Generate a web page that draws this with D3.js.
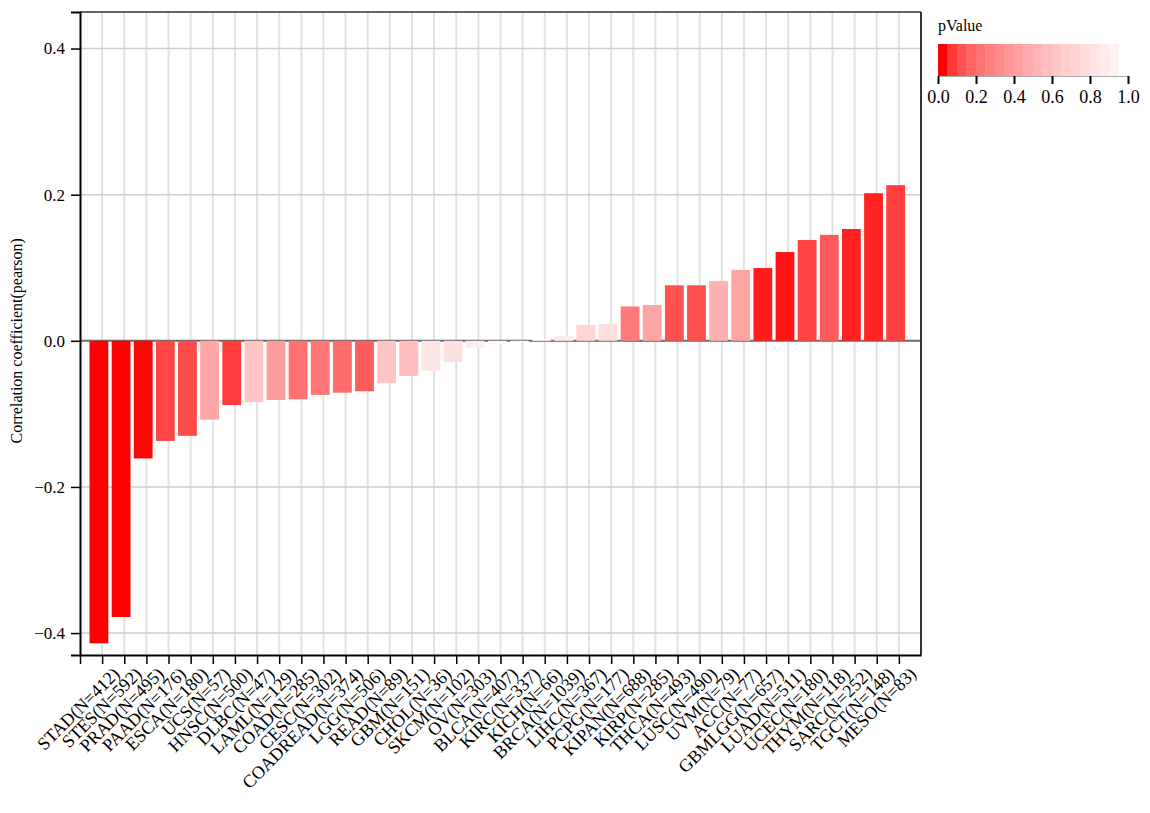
<!DOCTYPE html>
<html lang="en">
<head>
  <meta charset="UTF-8">
  <title>Correlation by cancer type</title>
  <style>
body { margin: 0; background: #fff; }
svg text { font-family: 'Liberation Serif', 'Times New Roman', serif; fill: #000; }
  </style>
</head>
<body>
<svg id="chart" width="1150" height="813"></svg>

<script src="https://d3js.org/d3.v7.min.js"></script>
<script>
// cancer types, sorted by correlation
const categories = ["STAD(N=412)","STES(N=592)","PRAD(N=495)","PAAD(N=176)","ESCA(N=180)",
  "UCS(N=57)","HNSC(N=500)","DLBC(N=47)","LAML(N=129)","COAD(N=285)","CESC(N=302)",
  "COADREAD(N=374)","LGG(N=506)","READ(N=89)","GBM(N=151)","CHOL(N=36)","SKCM(N=102)",
  "OV(N=303)","BLCA(N=407)","KIRC(N=337)","KICH(N=66)","BRCA(N=1039)","LIHC(N=367)",
  "PCPG(N=177)","KIPAN(N=688)","KIRP(N=285)","THCA(N=493)","LUSC(N=490)","UVM(N=79)",
  "ACC(N=77)","GBMLGG(N=657)","LUAD(N=511)","UCEC(N=180)","THYM(N=118)","SARC(N=252)",
  "TGCT(N=148)","MESO(N=83)"];

const correlations = [-0.414,-0.378,-0.161,-0.137,-0.130,
  -0.108,-0.088,-0.084,-0.081,-0.080,-0.074,
  -0.071,-0.069,-0.058,-0.048,-0.041,-0.029,
  -0.0095,-0.004,-0.002,0.003,0.0068,0.0216,
  0.023,0.047,0.049,0.076,0.076,0.082,
  0.097,0.0996,0.1215,0.138,0.145,0.153,
  0.202,0.213];

const pValues = [0.0000,0.0000,0.0004,0.075,0.085,
  0.43,0.055,0.59,0.38,0.20,0.21,
  0.18,0.13,0.59,0.55,0.82,0.77,
  0.86,0.93,0.97,0.97,0.84,0.69,
  0.76,0.23,0.42,0.095,0.095,0.48,
  0.41,0.012,0.007,0.068,0.125,0.017,
  0.019,0.06];

const yTicks = [-0.4,-0.2,0.0,0.2,0.4];
const legendSteps = [0,0.05,0.1,0.15,0.2,0.25,0.3,0.35,0.4,0.45,0.5,0.55,0.6,0.65,0.7,0.75,0.8,0.85,0.9];
const legendTicks = [0,0.2,0.4,0.6,0.8,1.0];

//--------------------------------------
// scales
//--------------------------------------
const svg = d3.select("#chart");
const plotL = 80, plotR = 921, plotT = 12, plotB = 655;

const x = d3.scaleLinear().domain([0, categories.length + 1]).range([plotL, plotR]);
const y = d3.scaleLinear().domain([-0.43, 0.45]).range([plotB, plotT]);
const color = d3.scaleSequentialSqrt(d3.interpolateRgb("#ff0000", "#ffffff")).domain([0, 1]);

//--------------------------------------
// grid
//--------------------------------------
svg.append("g").selectAll("line")
  .data(d3.range(1, categories.length + 1))
  .join("line")
    .attr("x1", d => x(d)).attr("x2", d => x(d))
    .attr("y1", plotT).attr("y2", plotB)
    .attr("stroke", "#e2e2e2").attr("stroke-width", 2);

svg.append("g").selectAll("line")
  .data(yTicks)
  .join("line")
    .attr("x1", plotL).attr("x2", plotR)
    .attr("y1", d => y(d)).attr("y2", d => y(d))
    .attr("stroke", "#cfcfcf").attr("stroke-width", 1.5);

// zero line
svg.append("line")
  .attr("x1", plotL).attr("x2", plotR)
  .attr("y1", y(0)).attr("y2", y(0))
  .attr("stroke", "#6e6e6e").attr("stroke-width", 2);

//--------------------------------------
// bars
//--------------------------------------
svg.append("g").selectAll("rect")
  .data(categories)
  .join("rect")
    .attr("x", (d, i) => x(i + 0.43))
    .attr("width", x(0.85) - x(0))
    .attr("y", (d, i) => y(Math.max(0, correlations[i])))
    .attr("height", (d, i) => Math.abs(y(correlations[i]) - y(0)))
    .attr("fill", (d, i) => color(pValues[i]));

// frame top + right
svg.append("line").attr("x1", plotL).attr("x2", plotR).attr("y1", plotT).attr("y2", plotT)
  .attr("stroke", "#333").attr("stroke-width", 1.5);
svg.append("line").attr("x1", plotR).attr("x2", plotR).attr("y1", plotT).attr("y2", plotB)
  .attr("stroke", "#333").attr("stroke-width", 2);

//--------------------------------------
// axes
//--------------------------------------
const yAxis = svg.append("g")
  .attr("transform", `translate(${plotL},0)`)
  .call(d3.axisLeft(y).tickValues(yTicks).tickSize(9).tickSizeOuter(9).tickPadding(6)
    .tickFormat(d3.format(".1f")));
yAxis.select(".domain").attr("stroke", "#000").attr("stroke-width", 2);
yAxis.selectAll(".tick line").attr("stroke", "#000").attr("stroke-width", 1.5);
yAxis.selectAll("text").style("font-size", "17px");

const xAxis = svg.append("g")
  .attr("transform", `translate(0,${plotB})`)
  .call(d3.axisBottom(x).tickValues(d3.range(0, categories.length + 1)).tickSize(9).tickSizeOuter(0)
    .tickFormat(i => i === 0 ? "" : categories[i - 1]));
xAxis.select(".domain").attr("stroke", "#000").attr("stroke-width", 2);
xAxis.selectAll(".tick line").attr("stroke", "#000").attr("stroke-width", 1.5);
xAxis.selectAll("text")
  .attr("x", 0).attr("y", 0).attr("dy", 0)
  .attr("transform", "translate(18,20) rotate(-45)")
  .style("text-anchor", "end")
  .style("font-size", "18px");

svg.append("text")
  .attr("transform", `translate(22,${y(0)}) rotate(-90)`)
  .attr("text-anchor", "middle")
  .style("font-size", "16px")
  .text("Correlation coefficient(pearson)");

//--------------------------------------
// legend
//--------------------------------------
const lx = d3.scaleLinear().domain([0, 1]).range([938, 1128]);
const legend = svg.append("g");

legend.append("text")
  .attr("x", 938).attr("y", 31)
  .style("font-size", "16px")
  .text("pValue");

legend.selectAll("rect")
  .data(legendSteps)
  .join("rect")
    .attr("x", d => lx(d))
    .attr("width", lx(0.05) - lx(0) + 0.3)
    .attr("y", 44).attr("height", 32)
    .attr("fill", d => color(d));

const lAxis = legend.append("g")
  .attr("transform", "translate(0,76)")
  .call(d3.axisBottom(lx).tickValues(legendTicks).tickSize(8).tickSizeOuter(0).tickPadding(6)
    .tickFormat(d3.format(".1f")));
lAxis.select(".domain").attr("stroke", "#aaa").attr("stroke-width", 1);
lAxis.selectAll(".tick line").attr("stroke", "#000").attr("stroke-width", 2);
lAxis.selectAll("text").style("font-size", "18px");
</script>
</body>
</html>
